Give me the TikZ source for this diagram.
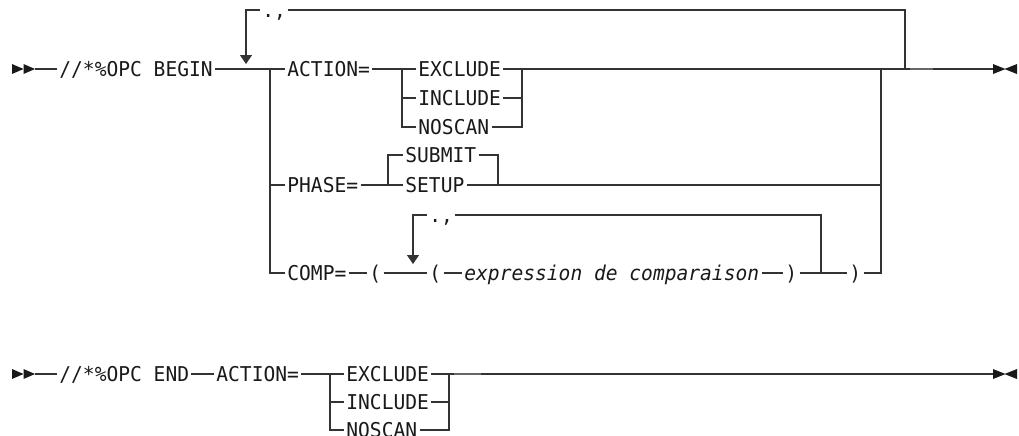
\documentclass[tikz,border=0pt]{standalone}
\usepackage{fontspec}
\newfontfamily\railfont[FakeStretch=0.96]{DejaVu Sans Mono}
\usetikzlibrary{arrows.meta}
\definecolor{railgray}{HTML}{333333}

\begin{document}
\begin{tikzpicture}[x=0.5pt, y=-0.5pt,
  kw/.style={anchor=west, inner xsep=1pt, inner ysep=0pt,
             text height=7.4pt, text depth=0pt, text=black!90,
             font=\railfont\fontsize{10.2pt}{12pt}\selectfont},
  arg/.style={kw, font=\railfont\itshape\fontsize{10.2pt}{12pt}\selectfont},
  rail/.style={line width=0.55pt, draw=railgray},
  repeatarr/.style={rail, -{Triangle[width=6pt, length=4.5pt]}},
  stub/.style={line width=0.9pt, draw=black!60},
  tipfill/.style={fill=black!90},
]
\useasboundingbox (0,0) rectangle (1019,435);

% ---------------- //*%OPC BEGIN ----------------
\fill[tipfill] (12,64) -- (23.5,69) -- (12,74) -- cycle;
\fill[tipfill] (23.5,64) -- (35,69) -- (23.5,74) -- cycle;
\coordinate (start1) at (35,69);
\node[kw] (begin) at (57,69) {//*\%OPC BEGIN};

% junctions on the main line
\coordinate (split) at (270,69);
\coordinate (merge) at (881,69);
\coordinate (rep) at (905,69);
\coordinate (end1) at (993,69);

% repeat loop with separator
\node[kw] (sep1) at (260,10) {.,};
\coordinate (repin) at (246,64);

% ACTION= choice
\node[kw] (action) at (285,69) {ACTION=};
\coordinate (acta) at (402,69);
\coordinate (actb) at (522,69);
\node[kw] (excl) at (416,69) {EXCLUDE};
\node[kw] (incl) at (416,98) {INCLUDE};
\node[kw] (nosc) at (416,127) {NOSCAN};

% PHASE= choice
\node[kw] (phase) at (285,185) {PHASE=};
\coordinate (pha) at (388,185);
\coordinate (phb) at (498,185);
\node[kw] (submit) at (403,155) {SUBMIT};
\node[kw] (setup) at (403,185) {SETUP};

% COMP= list
\node[kw] (comp) at (285,273) {COMP=};
\node[kw] (lpar1) at (367,273) {(};
\coordinate (cmpa) at (413,273);
\node[kw] (lpar2) at (427,273) {(};
\node[arg] (expr) at (462,273) {expression de comparaison};
\node[kw] (rpar1) at (783,273) {)};
\coordinate (cmpb) at (821,273);
\node[kw] (rpar2) at (847,273) {)};
\node[kw] (sep2) at (427,215) {.,};
\coordinate (cmpin) at (413,264);

% main line
\draw[rail] (start1) -- (begin.west);
\draw[rail] (begin.east) -- (split) -- (action.west);
\draw[rail] (split) |- (phase.west);
\draw[rail] (split) |- (comp.west);
\draw[rail] (rep) |- (sep1.east);
\draw[repeatarr] (sep1.west) -| (repin);

\draw[rail] (action.east) -- (excl.west);
\draw[rail] (acta) |- (incl.west);
\draw[rail] (acta) |- (nosc.west);
\draw[rail] (excl.east) -- (actb) -- (merge) -- (rep) -- (end1);
\draw[rail] (incl.east) -| (actb);
\draw[rail] (nosc.east) -| (actb);

\draw[rail] (phase.east) -- (setup.west);
\draw[rail] (pha) |- (submit.west);
\draw[rail] (submit.east) -| (phb);
\draw[rail] (setup.east) -- (setup -| merge);

\draw[rail] (comp.east) -- (lpar1.west);
\draw[rail] (lpar1.east) -- (lpar2.west);
\draw[rail] (lpar2.east) -- (expr.west);
\draw[rail] (expr.east) -- (rpar1.west);
\draw[rail] (rpar1.east) -- (rpar2.west);
\draw[rail] (rpar2.east) -| (merge);
\draw[rail] (cmpb) |- (sep2.east);
\draw[repeatarr] (sep2.west) -| (cmpin);

\draw[stub] (910,69) -- (933,69);
\fill[tipfill] (993,64) -- (1005.5,69) -- (993,74) -- cycle;
\fill[tipfill] (1017,64) -- (1004.5,69) -- (1017,74) -- cycle;

% ---------------- //*%OPC END ----------------
\fill[tipfill] (12,369) -- (23.5,374) -- (12,379) -- cycle;
\fill[tipfill] (23.5,369) -- (35,374) -- (23.5,379) -- cycle;
\coordinate (start2) at (35,374);
\node[kw] (endkw) at (57,374) {//*\%OPC END};
\node[kw] (action2) at (214,374) {ACTION=};
\coordinate (actc) at (330,374);
\coordinate (actd) at (449,374);
\coordinate (end2) at (993,374);
\node[kw] (excl2) at (344,374) {EXCLUDE};
\node[kw] (incl2) at (344,402) {INCLUDE};
\node[kw] (nosc2) at (344,430) {NOSCAN};

\draw[rail] (start2) -- (endkw.west);
\draw[rail] (endkw.east) -- (action2.west);
\draw[rail] (action2.east) -- (excl2.west);
\draw[rail] (actc) |- (incl2.west);
\draw[rail] (actc) |- (nosc2.west);
\draw[rail] (excl2.east) -- (actd) -- (end2);
\draw[rail] (incl2.east) -| (actd);
\draw[rail] (nosc2.east) -| (actd);

\draw[stub] (454,374) -- (481,374);
\fill[tipfill] (993,369) -- (1005.5,374) -- (993,379) -- cycle;
\fill[tipfill] (1017,369) -- (1004.5,374) -- (1017,379) -- cycle;
\end{tikzpicture}
\end{document}
